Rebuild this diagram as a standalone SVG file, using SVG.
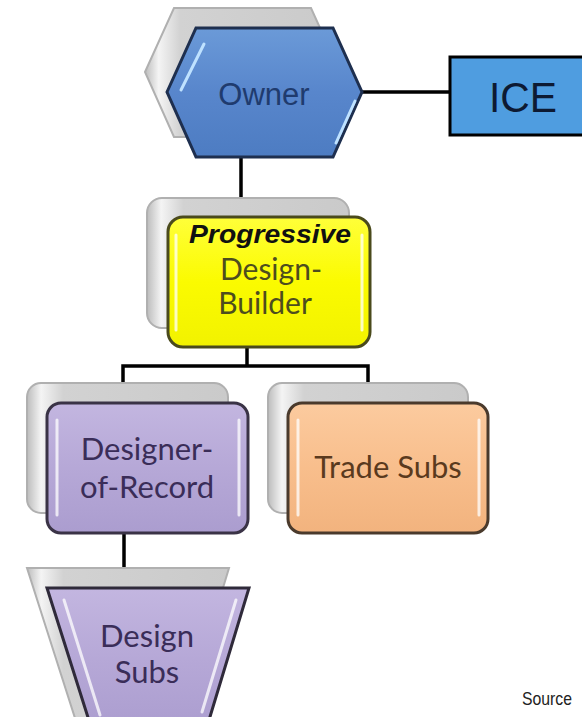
<svg xmlns="http://www.w3.org/2000/svg" width="582" height="717" viewBox="0 0 582 717">
  <defs>
    <linearGradient id="gBlue" x1="0" y1="0" x2="0" y2="1">
      <stop offset="0" stop-color="#6b9ad8"/>
      <stop offset="0.5" stop-color="#5886cc"/>
      <stop offset="1" stop-color="#4d7cc2"/>
    </linearGradient>
    <linearGradient id="gYellow" x1="0" y1="0" x2="0" y2="1">
      <stop offset="0" stop-color="#ffff3a"/>
      <stop offset="0.5" stop-color="#fbfb00"/>
      <stop offset="1" stop-color="#f2f200"/>
    </linearGradient>
    <linearGradient id="gPurple" x1="0" y1="0" x2="0" y2="1">
      <stop offset="0" stop-color="#c3b6e0"/>
      <stop offset="0.5" stop-color="#b6a8d7"/>
      <stop offset="1" stop-color="#ab9dcf"/>
    </linearGradient>
    <linearGradient id="gPeach" x1="0" y1="0" x2="0" y2="1">
      <stop offset="0" stop-color="#fccb9f"/>
      <stop offset="0.5" stop-color="#f8be8c"/>
      <stop offset="1" stop-color="#f2b37e"/>
    </linearGradient>
    <linearGradient id="gGray" x1="0" y1="0" x2="1" y2="0">
      <stop offset="0" stop-color="#bcbcbc"/>
      <stop offset="0.07" stop-color="#f4f4f4"/>
      <stop offset="0.18" stop-color="#d2d2d2"/>
      <stop offset="1" stop-color="#cacaca"/>
    </linearGradient>
  </defs>
  <style>
    .conn { fill: none; stroke: #000; stroke-width: 3.5; }
    .shadow { fill: url(#gGray); stroke: #b0b0b0; stroke-width: 2; }
    .shine { fill: none; stroke: #ffffff; stroke-width: 3; stroke-linecap: round; opacity: 0.75; }
    .lbl { font-family: Lato, "Liberation Sans", sans-serif; text-anchor: middle; }
  </style>

  <rect width="582" height="717" fill="#ffffff"/>

  <!-- reporting lines -->
  <g id="connectors">
    <path class="conn" d="M362,92 H450"/>
    <path class="conn" d="M241,157 V205"/>
    <path class="conn" d="M247,347 V366"/>
    <path class="conn" d="M123,390 V366 H368 V390"/>
    <path class="conn" d="M124,533 V575"/>
  </g>

  <!-- Owner -->
  <g id="owner">
    <polygon class="shadow" points="145,72 174,8 311,8 340,72 311,137 174,137"/>
    <polygon points="167,92 196,28 333,28 362,92 333,157 196,157" fill="url(#gBlue)" stroke="#1e2f4f" stroke-width="3"/>
    <path d="M204,44 L181,90" stroke="#bfe2ff" stroke-width="3" stroke-linecap="round"/>
    <path d="M355,101 L336,143" stroke="#bfe2ff" stroke-width="3" stroke-linecap="round"/>
    <text x="264" y="105" font-family="'Liberation Sans', Arial, sans-serif" font-size="31" fill="#1f3b6e" text-anchor="middle">Owner</text>
  </g>

  <!-- ICE -->
  <g id="ice">
    <rect x="450" y="57" width="150" height="78" fill="#4f9de0" stroke="#000" stroke-width="3"/>
    <text x="523" y="112" font-family="'Liberation Sans', Arial, sans-serif" font-size="42" fill="#0d1a33" text-anchor="middle" textLength="68" lengthAdjust="spacingAndGlyphs">ICE</text>
  </g>

  <!-- Progressive Design-Builder -->
  <g id="design-builder">
    <rect class="shadow" x="147" y="198" width="202" height="130" rx="15"/>
    <rect x="168" y="217" width="202" height="130" rx="15" fill="url(#gYellow)" stroke="#4a4a1c" stroke-width="3"/>
    <path class="shine" d="M176,235 V330"/>
    <path class="shine" d="M362,235 V330" opacity="0.5"/>
    <text x="270" y="243" font-family="'Liberation Sans', Arial, sans-serif" font-size="26" font-weight="bold" font-style="italic" fill="#111" text-anchor="middle" textLength="162" lengthAdjust="spacingAndGlyphs">Progressive</text>
    <text class="lbl" x="271" y="280" font-size="30" fill="#4d4d1e">Design-</text>
    <text class="lbl" x="265" y="314" font-size="30" fill="#4d4d1e">Builder</text>
  </g>

  <!-- Designer-of-Record -->
  <g id="designer-of-record">
    <rect class="shadow" x="27" y="383" width="201" height="130" rx="14"/>
    <rect x="47" y="403" width="201" height="130" rx="14" fill="url(#gPurple)" stroke="#3a3346" stroke-width="3"/>
    <path class="shine" d="M57,420 V515"/>
    <path class="shine" d="M239,420 V515" opacity="0.55"/>
    <text class="lbl" x="147" y="460" font-size="31" fill="#3a2d58">Designer-</text>
    <text class="lbl" x="147" y="498" font-size="31" fill="#3a2d58">of-Record</text>
  </g>

  <!-- Trade Subs -->
  <g id="trade-subs">
    <rect class="shadow" x="268" y="383" width="200" height="130" rx="14"/>
    <rect x="288" y="403" width="200" height="130" rx="14" fill="url(#gPeach)" stroke="#4a3a2c" stroke-width="3"/>
    <path class="shine" d="M298,420 V515"/>
    <path class="shine" d="M479,420 V515" opacity="0.55"/>
    <text class="lbl" x="388" y="478" font-size="31" fill="#5a3a1e">Trade Subs</text>
  </g>

  <!-- Design Subs -->
  <g id="design-subs">
    <polygon class="shadow" points="27,568 229,568 177,740 82,740"/>
    <polygon points="47,588 249,588 206,730 92,730" fill="url(#gPurple)" stroke="#2f2a3a" stroke-width="3"/>
    <path class="shine" d="M64,600 L100,715"/>
    <path class="shine" d="M236,600 L202,712" opacity="0.55"/>
    <text class="lbl" x="147" y="647" font-size="31" fill="#3a2d58">Design</text>
    <text class="lbl" x="147" y="683" font-size="31" fill="#3a2d58">Subs</text>
  </g>

  <text x="522" y="705" font-family="'Liberation Sans', Arial, sans-serif" font-size="19" fill="#222" textLength="50" lengthAdjust="spacingAndGlyphs">Source</text>
</svg>
